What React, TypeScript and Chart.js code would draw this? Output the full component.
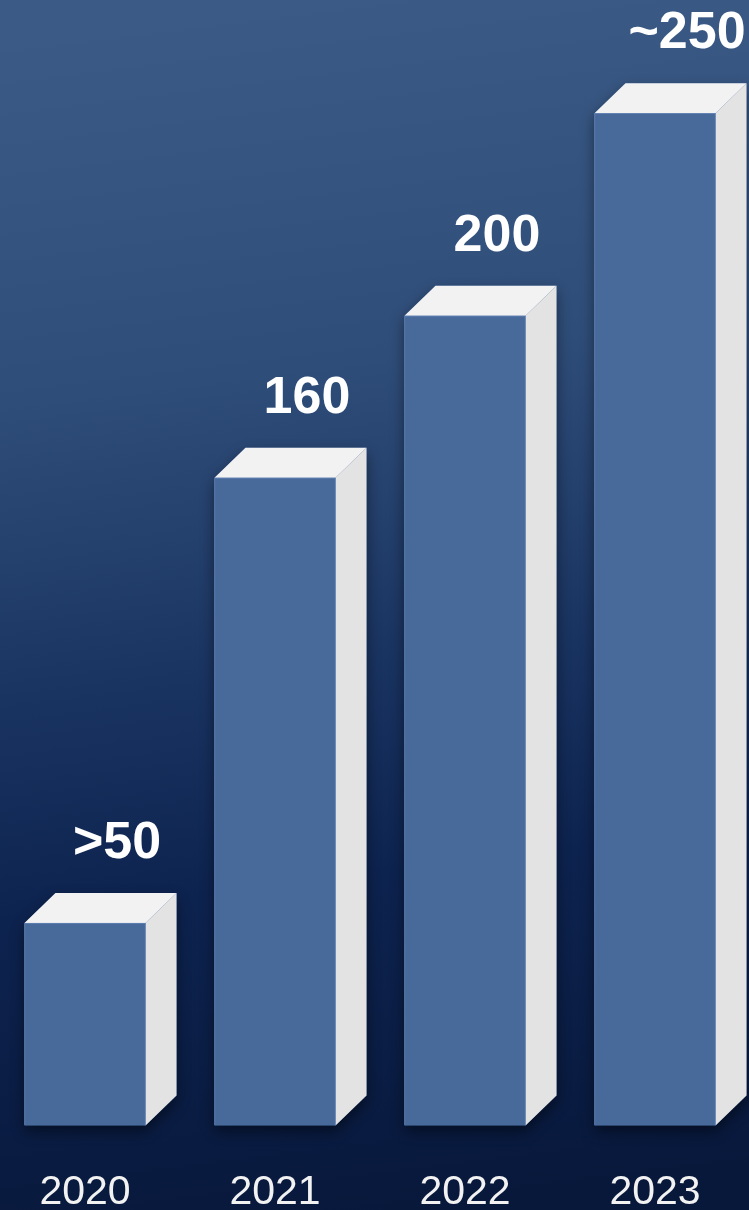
import React, { useEffect, useRef } from "react";
import { Chart, registerables, Plugin } from "chart.js";

Chart.register(...registerables);

const years = ["2020", "2021", "2022", "2023"];
const counts = [50, 160, 200, 250];
const valueLabels = [">50", "160", "200", "~250"];

const FONT = '"Liberation Sans", Arial, sans-serif';
const DEPTH_X = 31;
const DEPTH_Y = 30;

// page background, drawn over the whole canvas
const backgroundPlugin: Plugin<"bar"> = {
  id: "bgGradient",
  beforeDraw(chart) {
    const { ctx, width, height } = chart;
    const g = ctx.createLinearGradient(width * 0.4, 0, width * 0.6, height);
    g.addColorStop(0, "#3b5b86");
    g.addColorStop(0.3, "#2f4d79");
    g.addColorStop(0.55, "#193360");
    g.addColorStop(0.72, "#0d234f");
    g.addColorStop(1, "#08183b");
    ctx.save();
    ctx.fillStyle = g;
    ctx.fillRect(0, 0, width, height);
    ctx.restore();
  },
};

// top and right faces of each bar, plus its soft shadow
const boxPlugin: Plugin<"bar"> = {
  id: "box3d",
  beforeDatasetsDraw(chart) {
    const { ctx } = chart;
    const meta = chart.getDatasetMeta(0);
    meta.data.forEach((el) => {
      const { x, y, base, width } = el.getProps(["x", "y", "base", "width"], true);
      const l = x - width / 2;
      const r = x + width / 2;

      ctx.save();
      ctx.shadowColor = "rgba(0, 0, 0, 0.45)";
      ctx.shadowBlur = 14;
      ctx.shadowOffsetY = 6;
      ctx.fillStyle = "#476a9b";
      ctx.beginPath();
      ctx.moveTo(l, base);
      ctx.lineTo(l, y);
      ctx.lineTo(l + DEPTH_X, y - DEPTH_Y);
      ctx.lineTo(r + DEPTH_X, y - DEPTH_Y);
      ctx.lineTo(r + DEPTH_X, base - DEPTH_Y);
      ctx.lineTo(r, base);
      ctx.closePath();
      ctx.fill();
      ctx.restore();

      ctx.save();
      ctx.fillStyle = "#f2f2f2";
      ctx.beginPath();
      ctx.moveTo(l, y);
      ctx.lineTo(l + DEPTH_X, y - DEPTH_Y);
      ctx.lineTo(r + DEPTH_X, y - DEPTH_Y);
      ctx.lineTo(r, y);
      ctx.closePath();
      ctx.fill();

      ctx.fillStyle = "#e3e3e3";
      ctx.beginPath();
      ctx.moveTo(r, y);
      ctx.lineTo(r + DEPTH_X, y - DEPTH_Y);
      ctx.lineTo(r + DEPTH_X, base - DEPTH_Y);
      ctx.lineTo(r, base);
      ctx.closePath();
      ctx.fill();
      ctx.restore();
    });
  },
  afterDatasetsDraw(chart) {
    const { ctx } = chart;
    const meta = chart.getDatasetMeta(0);
    ctx.save();
    ctx.fillStyle = "#ffffff";
    ctx.font = `bold 52px ${FONT}`;
    ctx.textAlign = "center";
    ctx.textBaseline = "alphabetic";
    meta.data.forEach((el, i) => {
      const { x, y } = el.getProps(["x", "y"], true);
      ctx.fillText(valueLabels[i], x + DEPTH_X + 1, y - 65);
    });
    ctx.restore();
  },
};

function GrowthChart() {
  const canvasRef = useRef<HTMLCanvasElement>(null);
  const chartRef = useRef<Chart | null>(null);

  useEffect(() => {
    if (!canvasRef.current) return;
    document.body.style.margin = "0";

    if (chartRef.current) {
      chartRef.current.destroy();
    }

    chartRef.current = new Chart(canvasRef.current, {
      type: "bar",
      data: {
        labels: years,
        datasets: [
          {
            data: counts,
            backgroundColor: "#476a9b",
            borderColor: "#6283b4",
            borderWidth: 1,
            barThickness: 121,
          },
        ],
      },
      options: {
        responsive: true,
        maintainAspectRatio: false,
        animation: false,
        layout: { padding: { top: 0, bottom: 0, left: 0, right: 0 } },
        plugins: {
          legend: { display: false },
          tooltip: { enabled: false },
        },
        scales: {
          x: {
            grid: { display: false, drawTicks: false },
            border: { display: false },
            ticks: {
              color: "#f2f2f2",
              font: { family: FONT, size: 41 },
              padding: 43,
              maxRotation: 0,
              autoSkip: false,
            },
            afterFit: (scale) => {
              scale.height = 84.5;
            },
          },
          y: {
            display: false,
            min: 0,
            max: 278,
          },
        },
      },
      plugins: [backgroundPlugin, boxPlugin],
    });

    return () => {
      chartRef.current?.destroy();
      chartRef.current = null;
    };
  }, []);

  return (
    <div
      style={{
        width: 749,
        height: 1210,
        overflow: "hidden",
        position: "relative",
        background: "#08183b",
      }}
    >
      <div style={{ position: "absolute", left: -10, top: 0, width: 760, height: 1210 }}>
        <canvas
          ref={canvasRef}
          role="img"
          aria-label="Bar chart by year: 2020 >50, 2021 160, 2022 200, 2023 ~250"
        />
      </div>
    </div>
  );
}

export default function App() {
  return <GrowthChart />;
}
